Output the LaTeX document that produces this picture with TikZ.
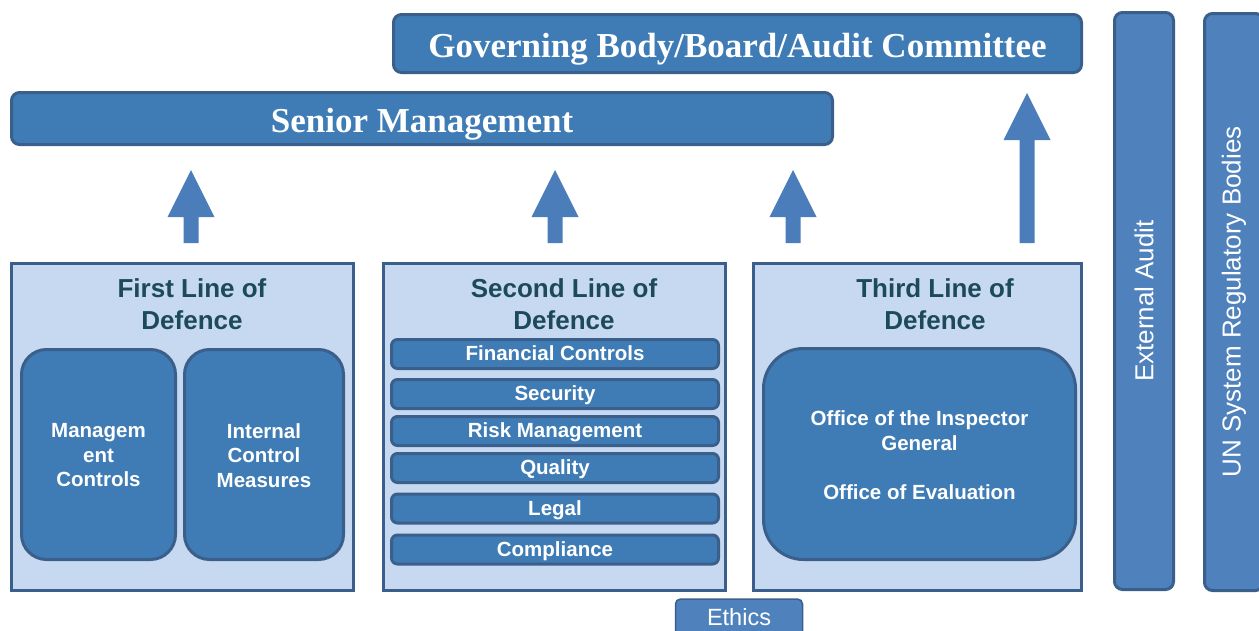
\documentclass[tikz,border=0pt]{standalone}
\usepackage{fontspec}
\setmainfont{Liberation Serif}
\setsansfont{Liberation Sans}
\definecolor{boxfill}{HTML}{3F7CB5}
\definecolor{boxline}{HTML}{3B5F8B}
\definecolor{lightfill}{HTML}{C6D9F0}
\definecolor{sidefill}{HTML}{4F81BD}
\definecolor{titlecol}{HTML}{1D4A5B}
\definecolor{arrowcol}{HTML}{4A7DBA}
\newcommand\upblockarrow[3]{%
  \fill[arrowcol] (#1-7.5,#2) -- (#1-7.5,#3+47) -- (#1-23.5,#3+47) -- (#1,#3) -- (#1+23.5,#3+47) -- (#1+7.5,#3+47) -- (#1+7.5,#2) -- cycle;}
\begin{document}
\begin{tikzpicture}[x=1pt,y=-1pt,
  topbar/.style={draw=boxline,line width=3pt,fill=boxfill,rounded corners=8pt,inner sep=0pt},
  toptext/.style={text=white,font=\fontsize{35}{40}\selectfont\bfseries,inner sep=0pt},
  linebox/.style={draw=boxline,line width=3pt,fill=lightfill,inner sep=0pt,
    minimum width=342pt,minimum height=327pt},
  linetitle/.style={text=titlecol,font=\sffamily\bfseries\fontsize{26}{32}\selectfont,align=center,inner sep=0pt},
  innerbox/.style={draw=boxline,line width=3pt,fill=boxfill,text=white,align=center,
    font=\sffamily\bfseries\fontsize{20.5}{24.5}\selectfont,inner sep=0pt},
  bar/.style={draw=boxline,line width=3pt,fill=boxfill,text=white,rounded corners=6pt,
    font=\sffamily\bfseries\fontsize{20.5}{24}\selectfont,inner sep=0pt,
    text height=15pt,text depth=2pt,
    minimum width=327pt,minimum height=29pt},
  sidebox/.style={draw=boxline,line width=3pt,fill=sidefill,rounded corners=8pt,inner sep=0pt,
    minimum width=59pt,minimum height=577pt},
  sidetext/.style={text=white,font=\sffamily\fontsize{26}{30}\selectfont,rotate=90,inner sep=0pt}]
\useasboundingbox (0,0) rectangle (1259,630);
% top bars
\node[topbar,minimum width=688pt,minimum height=58pt] (gov) at (737.5,43.5) {};
\node[toptext] (govt) at (737.5,49) {Governing Body/Board/Audit Committee};
\node[topbar,minimum width=821pt,minimum height=52pt] (sm) at (422,118.5) {};
\node[toptext] (smt) at (422,124.5) {Senior Management};
% arrows
\upblockarrow{191}{243}{170}
\upblockarrow{555}{243}{170}
\upblockarrow{793}{243}{170}
\upblockarrow{1027}{243}{93}
% line boxes
\node[linebox] (l1) at (182.5,427) {};
\node[linebox] (l2) at (554.5,427) {};
\node[linebox,minimum width=328pt] (l3) at (917.5,427) {};
\node[linetitle] (t1) at (192,304) {First Line of\\Defence};
\node[linetitle] (t2) at (564,304) {Second Line of\\Defence};
\node[linetitle] (t3) at (935,304) {Third Line of\\Defence};
% first line inner
\node[innerbox,rounded corners=25pt,minimum width=154pt,minimum height=210pt] (mc) at (98.5,454.5) {};
\node[innerbox,fill=none,draw=none] (mct) at (98.5,455.5) {Managem\\ent\\Controls};
\node[innerbox,rounded corners=25pt,minimum width=159pt,minimum height=210pt] (icm) at (264,454.5) {};
\node[innerbox,fill=none,draw=none] (icmt) at (264,455.5) {Internal\\Control\\Measures};
% second line bars
\node[bar] (fc) at (555,354) {Financial Controls};
\node[bar] (sec) at (555,394) {Security};
\node[bar] (rm) at (555,431) {Risk Management};
\node[bar] (qu) at (555,468) {Quality};
\node[bar] (le) at (555,508.5) {Legal};
\node[bar] (co) at (555,549.5) {Compliance};
% third line inner
\node[innerbox,rounded corners=40pt,minimum width=312pt,minimum height=211pt] (oig) at (919.5,454) {};
\node[innerbox,fill=none,draw=none] (oigt) at (919.5,455) {Office of the Inspector\\General\\[24.5pt]Office of Evaluation};
% side boxes
\node[sidebox] (ea) at (1144,301) {};
\node[sidetext] (eat) at (1144,301) {External Audit};
\node[sidebox] (un) at (1234,302) {};
\node[sidetext] (unt) at (1234,302) {UN System Regulatory Bodies};
% ethics
\node[draw=boxline,line width=1.5pt,fill=sidefill,rounded corners=5pt,minimum width=127pt,minimum height=38pt,inner sep=0pt] (eth) at (739,618) {};
\node[text=white,font=\sffamily\fontsize{23.5}{26}\selectfont,inner sep=0pt] (etht) at (739,617) {Ethics};
\end{tikzpicture}
\end{document}
